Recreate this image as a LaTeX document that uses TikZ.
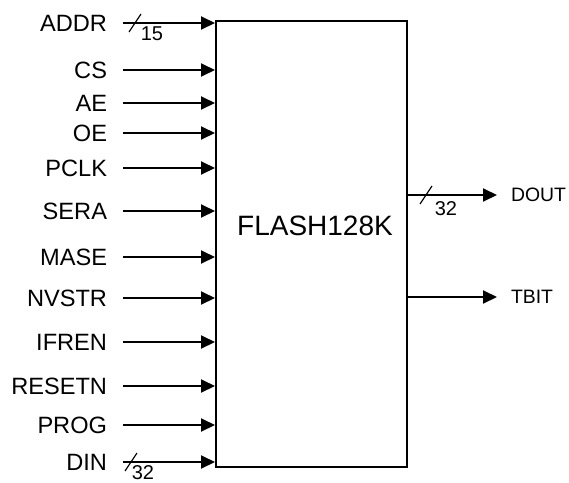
\documentclass[tikz,border=0pt]{standalone}
\usepackage{fontspec}
\setmainfont{Liberation Sans}
\usetikzlibrary{arrows.meta}

\begin{document}
\begin{tikzpicture}[x=0.5pt,y=-0.5pt,line width=1pt,
  sig/.style={-{Triangle[length=7pt,width=6.5pt]}},
  pin/.style={anchor=east,inner sep=0pt,text height=8.4pt,text depth=0pt,font=\fontsize{11.8}{14}\selectfont},
  opin/.style={anchor=west,inner sep=0pt,text height=6.9pt,text depth=0pt,font=\fontsize{9.7}{12}\selectfont},
  bus/.style={inner sep=0pt,font=\fontsize{10}{12}\selectfont}]
 \useasboundingbox (0,0) rectangle (569,483);
 \node[draw,minimum width=95.5pt,minimum height=223pt,inner sep=0pt] (flash) at (311.5,244) {};
 \node[font=\fontsize{14}{16}\selectfont,inner sep=0pt] (title) at (315,226) {FLASH128K};
 % inputs
 \foreach \nm/\yy in {ADDR/23,CS/70,AE/103,OE/133,PCLK/168,SERA/211,MASE/257,
   NVSTR/298,IFREN/342,RESETN/386,PROG/425,DIN/462}{
   \node[pin] (\nm) at (108,\yy) {\nm};
   \draw[sig] ([xshift=7.5pt]\nm.east) -- (\nm -| flash.west);
 }
 % outputs
 \node[opin] (DOUT) at (510,195) {DOUT};
 \draw[sig] (flash.east |- DOUT) -- ([xshift=-6.5pt]DOUT.west);
 \node[opin] (TBIT) at (510,297) {TBIT};
 \draw[sig] (flash.east |- TBIT) -- ([xshift=-6.5pt]TBIT.west);
 % bus widths
 \draw[line width=0.6pt] (129,32) -- (141,14);
 \node[bus] (w15) at (152,34) {15};
 \draw[line width=0.6pt] (125,471) -- (137,453);
 \node[bus] (wdin) at (143,473) {32};
 \draw[line width=0.6pt] (420,204) -- (432,186);
 \node[bus] (wdout) at (446,209) {32};
\end{tikzpicture}
\end{document}
